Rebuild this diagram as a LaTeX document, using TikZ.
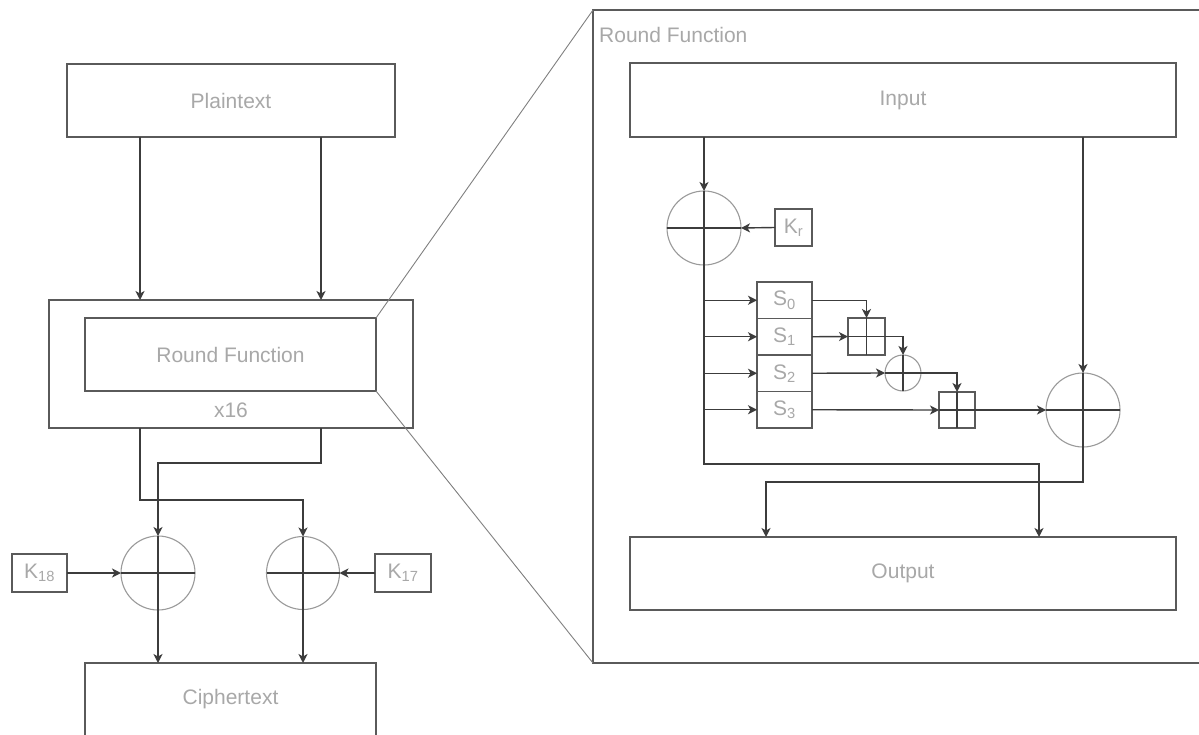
\documentclass[tikz,border=0pt]{standalone}
\usepackage{fontspec}
\setmainfont{Liberation Sans}
\usetikzlibrary{arrows.meta,calc}

\definecolor{linec}{HTML}{3C3C3C}
\definecolor{boxc}{HTML}{5A5A5A}
\definecolor{circc}{HTML}{9A9A9A}
\definecolor{txtc}{HTML}{A8A8A8}
\definecolor{zoomc}{HTML}{808080}

\tikzset{
  blk/.style={draw=boxc, line width=1.4pt, inner sep=0pt, outer sep=0pt,
    text=txtc, font=\fontsize{21}{25}\selectfont},
  xorc/.style={circle, draw=circc, line width=1.1pt, inner sep=0pt, outer sep=0pt},
  wire/.style={draw=linec, line width=1.4pt},
  arr/.style={wire, -{Stealth[length=9pt,width=9pt,inset=2.5pt]}},
  zoomln/.style={draw=zoomc, line width=0.9pt},
  lbl/.style={text=txtc, font=\fontsize{21}{25}\selectfont, inner sep=0pt},
}

% XOR symbol: circle crossed by a plus
\newcommand{\xorcross}[1]{%
  \draw[wire] (#1.north) -- (#1.south);
  \draw[wire] (#1.west) -- (#1.east);}
% modular adder: square split by a plus
\newcommand{\addcross}[1]{%
  \draw[wire] (#1.north) -- (#1.south);
  \draw[wire] (#1.west) -- (#1.east);}

\begin{document}
\begin{tikzpicture}[x=1pt,y=-1pt]
\useasboundingbox (0,0) rectangle (1199,735);
\clip (0,0) rectangle (1199,735);
\fill[white] (0,0) rectangle (1199,735);

% ---------------- cipher overview ----------------
\node[blk, minimum width=328pt, minimum height=73pt] (plain) at (231,100.5) {Plaintext};
\node[blk, minimum width=364pt, minimum height=128pt] (outer) at (231,364) {};
\node[blk, minimum width=291pt, minimum height=73pt] (inner) at (230.5,354.5) {Round Function};
\node[lbl] (times) at (231,410) {x16};
\node[blk, minimum width=291pt, minimum height=73pt] (ciph) at (230.5,699.5) {Ciphertext};

\node[xorc, minimum size=74pt] (xl) at (158,573) {};
\node[xorc, minimum size=73pt] (xr) at (303,573) {};
\xorcross{xl}
\xorcross{xr}

\node[blk, minimum width=55pt, minimum height=38pt] (k18) at (39.5,573) {K\textsubscript{18}};
\node[blk, minimum width=56pt, minimum height=38pt] (k17) at (403,573) {K\textsubscript{17}};

\draw[arr] (140,0 |- plain.south) -- (140,0 |- outer.north);
\draw[arr] (321,0 |- plain.south) -- (321,0 |- outer.north);

\draw[arr] (140,0 |- outer.south) -- (140,500) -- (xr.north |- 0,500) -- (xr.north);
\draw[arr] (321,0 |- outer.south) -- (321,463) -- (xl.north |- 0,463) -- (xl.north);

\draw[arr] (k18.east) -- (xl.west);
\draw[arr] (k17.west) -- (xr.east);
\draw[arr] (xl.south) -- (xl.south |- ciph.north);
\draw[arr] (xr.south) -- (xr.south |- ciph.north);

% ---------------- round function detail ----------------
\node[draw=boxc, line width=1.4pt, minimum width=622pt, minimum height=653pt,
      inner sep=0pt, outer sep=0pt] (big) at (904,336.5) {};
\node[lbl, anchor=west] (rflabel) at (599,35) {Round Function};

\draw[zoomln] (inner.north east) -- (big.north west);
\draw[zoomln] (inner.south east) -- (big.south west);

\node[blk, minimum width=546pt, minimum height=74pt] (input) at (903,100) {Input};
\node[blk, minimum width=546pt, minimum height=73pt] (output) at (903,573.5) {Output};

\node[xorc, minimum size=74pt] (x1) at (704,228) {};
\xorcross{x1}
\node[blk, minimum width=37pt, minimum height=37pt] (kr) at (793.5,227.5) {K\textsubscript{r}};

\foreach \i in {0,1,2,3} {
  \node[blk, minimum width=55pt, minimum height=36.5pt] (s\i) at (784.5,300.25+36.5*\i) {S\textsubscript{\i}};
}

\node[draw=boxc, line width=1.4pt, minimum width=37pt, minimum height=37pt,
      inner sep=0pt, outer sep=0pt] (a1) at (866.5,336.5) {};
\addcross{a1}
\node[xorc, minimum size=36pt] (x2) at (903,373) {};
\xorcross{x2}
\node[draw=boxc, line width=1.4pt, minimum width=36pt, minimum height=36pt,
      inner sep=0pt, outer sep=0pt] (a2) at (957,410) {};
\addcross{a2}
\node[xorc, minimum size=74pt] (x3) at (1083,410) {};
\xorcross{x3}

% input into the key XOR and into the final XOR
\draw[arr] (x1.north |- input.south) -- (x1.north);
\draw[arr] (kr.west) -- (x1.east);
\draw[arr] (x3.north |- input.south) -- (x3.north);

% key-mixed half: fan out to the S-boxes and pass down to the output
\draw[arr] (x1.south) -- (x1.south |- 0,464) -- (1039,464) -- (1039,0 |- output.north);
\foreach \i in {0,1,2,3} {
  \draw[arr] (x1.south |- s\i.west) -- (s\i.west);
}

% S-box outputs combined in turn
\draw[arr] (s0.east) -| (a1.north);
\draw[arr] (s1.east) -- (a1.west);
\draw[arr] (a1.east) -| (x2.north);
\draw[arr] (s2.east) -- (x2.west);
\draw[arr] (x2.east) -| (a2.north);
\draw[arr] (s3.east) -- (a2.west);
\draw[arr] (a2.east) -- (x3.west);

% final XOR down to the output
\draw[arr] (x3.south) -- (x3.south |- 0,482) -- (766,482) -- (766,0 |- output.north);
\end{tikzpicture}
\end{document}
